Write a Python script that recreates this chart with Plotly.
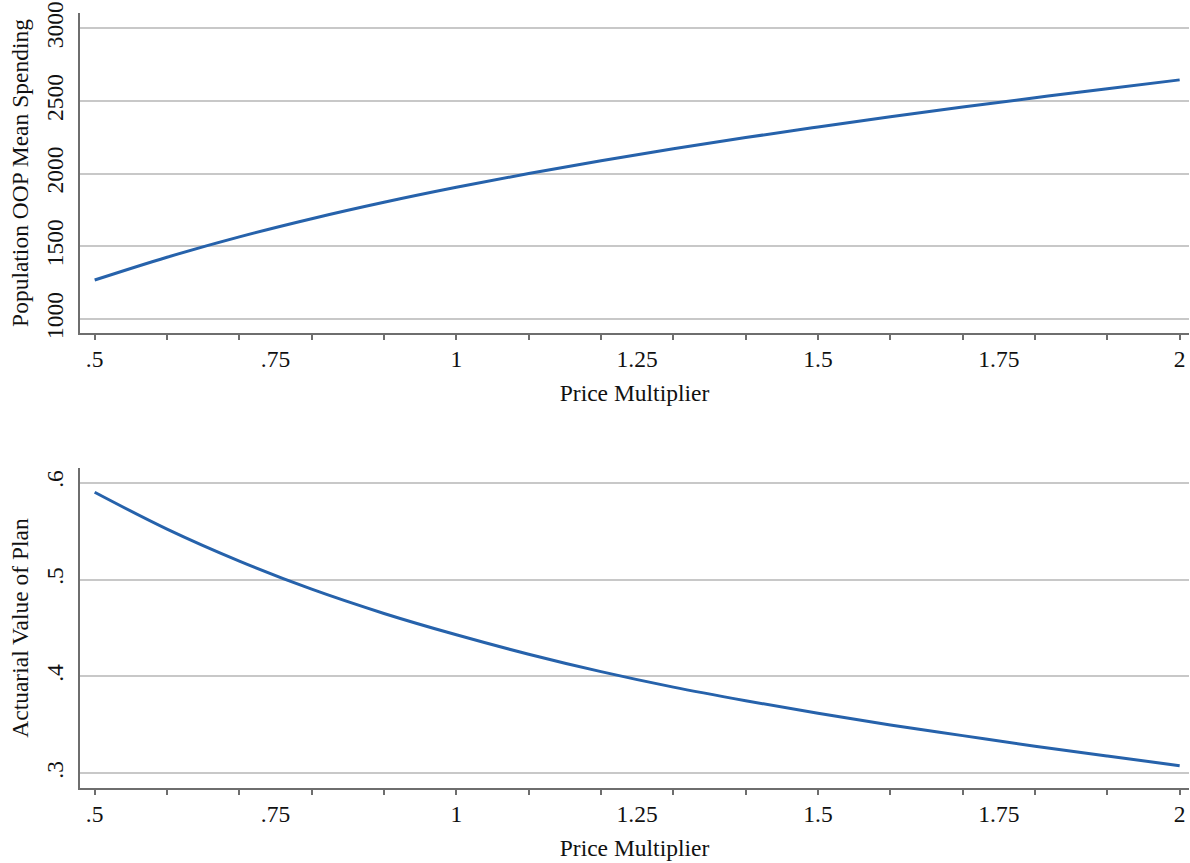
import plotly.graph_objects as go

# ---- data ----
price_multiplier = [0.5, 0.6, 0.7, 0.8, 0.9, 1.0, 1.1, 1.2, 1.3, 1.4, 1.5, 1.6, 1.7, 1.8, 1.9, 2.0]
oop_mean_spending = [1268, 1425, 1565, 1690, 1803, 1906, 2001, 2089, 2171, 2248, 2321, 2391, 2458, 2522, 2584, 2645]
actuarial_value = [0.590, 0.552, 0.519, 0.490, 0.465, 0.443, 0.423, 0.405, 0.389, 0.375, 0.362, 0.350, 0.339, 0.328, 0.318, 0.308]

x_label_vals = [0.5, 0.75, 1.0, 1.25, 1.5, 1.75, 2.0]
x_label_text = [".5", ".75", "1", "1.25", "1.5", "1.75", "2"]
x_tick_marks = [0.5, 0.6, 0.7, 0.8, 0.9, 1.0, 1.1, 1.2, 1.3, 1.4, 1.5, 1.6, 1.7, 1.8, 1.9, 2.0]
top_y_ticks = [1000, 1500, 2000, 2500, 3000]
top_y_text = ["1000", "1500", "2000", "2500", "3000"]
bot_y_ticks = [0.3, 0.4, 0.5, 0.6]
bot_y_text = [".3", ".4", ".5", ".6"]

LINE = "#2662AB"
AXIS = "#6e6e6e"
GRID = "#c8c8c8"
FONT = "Liberation Serif"
FS = 23.5
TXT = "#111111"

fig = go.Figure()
fig.add_trace(go.Scatter(x=price_multiplier, y=oop_mean_spending, mode="lines",
                         line=dict(color=LINE, width=3, shape="spline"),
                         xaxis="x", yaxis="y", showlegend=False))
fig.add_trace(go.Scatter(x=price_multiplier, y=actuarial_value, mode="lines",
                         line=dict(color=LINE, width=3, shape="spline"),
                         xaxis="x2", yaxis="y2", showlegend=False))
# invisible traces to anchor the label axes
fig.add_trace(go.Scatter(x=price_multiplier, y=oop_mean_spending, mode="lines", opacity=0,
                         xaxis="x3", yaxis="y", showlegend=False, hoverinfo="skip"))
fig.add_trace(go.Scatter(x=price_multiplier, y=actuarial_value, mode="lines", opacity=0,
                         xaxis="x4", yaxis="y2", showlegend=False, hoverinfo="skip"))

xr = [0.4797, 2.0129]
top_dom = [0.5871, 1.0]
bot_dom = [0.0, 0.4129]

tick_axis = dict(range=xr, tickmode="array", tickvals=x_tick_marks, showticklabels=False,
                 ticks="outside", ticklen=5, tickwidth=1.5, tickcolor=AXIS,
                 showline=True, linecolor=AXIS, linewidth=2, showgrid=False, zeroline=False)
label_axis = dict(range=xr, tickmode="array", tickvals=x_label_vals, ticktext=x_label_text,
                  ticks="outside", ticklen=5, tickcolor="rgba(0,0,0,0)", showline=False,
                  showgrid=False, zeroline=False, ticklabeloverflow="allow",
                  tickfont=dict(family=FONT, size=FS, color=TXT))

y_common = dict(tickmode="array", ticks="", tickangle=-90, showline=True, linecolor=AXIS, linewidth=2,
                showgrid=True, gridcolor=GRID, gridwidth=1.5, zeroline=False, ticklabelstandoff=6,
                ticklabeloverflow="allow", tickfont=dict(family=FONT, size=FS, color=TXT))

fig.update_layout(
    width=1190, height=863,
    margin=dict(l=80, r=1, t=13, b=75),
    paper_bgcolor="white", plot_bgcolor="white",
    xaxis=dict(domain=[0, 1], anchor="y", **tick_axis),
    xaxis2=dict(domain=[0, 1], anchor="y2", **tick_axis),
    xaxis3=dict(overlaying="x", anchor="y", side="bottom",
                title=dict(text="Price Multiplier", font=dict(family=FONT, size=FS, color=TXT), standoff=13),
                **label_axis),
    xaxis4=dict(overlaying="x2", anchor="y2", side="bottom",
                title=dict(text="Price Multiplier", font=dict(family=FONT, size=FS, color=TXT), standoff=13),
                **label_axis),
    yaxis=dict(domain=top_dom, anchor="x", range=[903.6, 3105], tickvals=top_y_ticks, ticktext=top_y_text,
               title=dict(text="Population OOP Mean Spending", font=dict(family=FONT, size=FS, color=TXT), standoff=6),
               **y_common),
    yaxis2=dict(domain=bot_dom, anchor="x2", range=[0.285, 0.615], tickvals=bot_y_ticks, ticktext=bot_y_text,
                title=dict(text="Actuarial Value of Plan", font=dict(family=FONT, size=FS, color=TXT), standoff=6),
                **y_common),
)

fig.write_html("out.html", config={"displayModeBar": False},
               post_script="document.body.style.margin='0';document.body.style.overflow='hidden';")
